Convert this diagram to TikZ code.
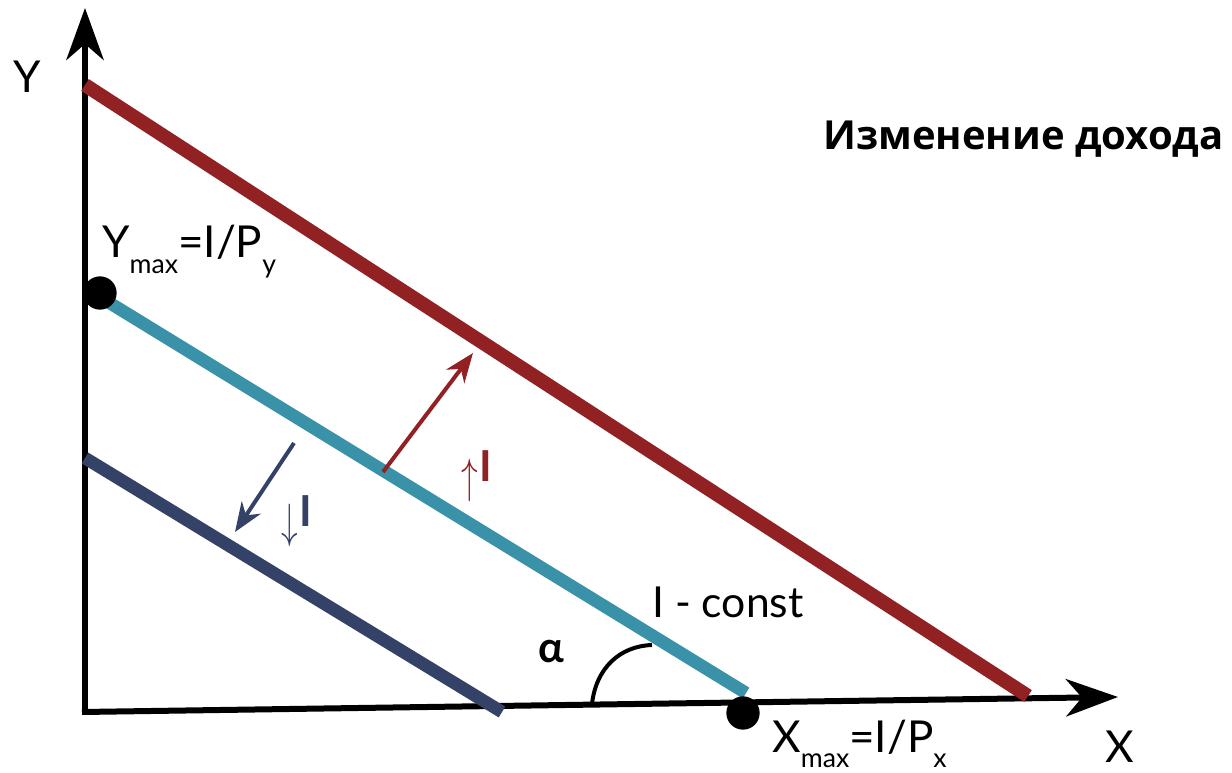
\documentclass[tikz,border=0pt]{standalone}
\usepackage{fontspec}
\setmainfont{Lato}
\newfontfamily\titlefont{Open Sans}
\usetikzlibrary{arrows.meta}
\definecolor{incred}{HTML}{922124}
\definecolor{baseteal}{HTML}{3A92A8}
\definecolor{decnavy}{HTML}{344268}
\newcommand{\lowsub}[1]{\raisebox{-0.36em}{\fontsize{20}{22}\selectfont #1}}
\newcommand{\tallarrow}[1]{\raisebox{-0.25em}{\scalebox{1}[1.45]{$#1$}}\kern1pt}

\begin{document}
\begin{tikzpicture}[x=0.75pt,y=-0.75pt,
  axis/.style={line width=4.5pt,-{Stealth[length=39pt,width=28pt,inset=12pt]}},
  budget/.style={line width=9.5pt},
  shiftarrow/.style={line width=3pt,-{Stealth[length=22pt,width=17pt,inset=7pt]}},
  lbl/.style={inner sep=0pt,font=\fontsize{33}{38}\selectfont},
  dot/.style={circle,fill=black,inner sep=0pt,minimum size=25pt}]
  \useasboundingbox (0,0) rectangle (1232,773);
  % axes
  \coordinate (origin) at (85,712);
  \coordinate (ytip) at (85,8);
  \coordinate (xtip) at (1118,697);
  \draw[axis] (85,715) -- (ytip);
  \draw[axis] (82,712) -- (xtip);
  \node[lbl] (ylabel) at (27,77) {Y};
  \node[lbl] (xlabel) at (1120,747) {X};
  % budget lines
  \coordinate (redtop) at (85,85);
  \coordinate (redend) at (1028,696);
  \coordinate (tealtop) at (100,297);
  \coordinate (tealend) at (746,693);
  \coordinate (navytop) at (85,458);
  \coordinate (navyend) at (502,712);
  \draw[budget,incred,line width=10.5pt] (redtop) -- (redend);
  \draw[budget,baseteal] (tealtop) -- (tealend);
  \draw[budget,decnavy] (navytop) -- (navyend);
  \node[dot] (ymaxdot) at (100,293) {};
  \node[dot] (xmaxdot) at (743,713) {};
  % shifts of income
  \coordinate (upstart) at (383,472);
  \coordinate (uptip) at (473,353);
  \coordinate (downstart) at (294,443);
  \coordinate (downtip) at (235,532);
  \draw[shiftarrow,incred] (upstart) -- (uptip);
  \draw[shiftarrow,decnavy] (downstart) -- (downtip);
  \node[inner sep=0pt,text=incred,font=\fontsize{32}{36}\selectfont,anchor=base west] (incup) at (461,482) {\tallarrow{\uparrow}\textbf{I}};
  \node[inner sep=0pt,text=decnavy,font=\fontsize{32}{36}\selectfont,anchor=base west] (incdown) at (281,527) {\tallarrow{\downarrow}\textbf{I}};
  % labels
  \node[lbl,anchor=base west] (ymax) at (102,258) {Y\lowsub{max}=I/P\lowsub{y}};
  \node[lbl,anchor=base west] (xmax) at (772,752) {X\lowsub{max}=I/P\lowsub{x}};
  \node[inner sep=0pt,anchor=base west,font=\fontsize{32}{36}\selectfont] (iconst) at (652,617) {I - const};
  \node[inner sep=0pt,font=\fontsize{32}{36}\selectfont\bfseries] (alpha) at (551,652) {α};
  \draw[line width=3pt] (592,704) .. controls (596,668) and (620,646) .. (652,645);
  \node[inner sep=0pt,anchor=base west,font=\titlefont\fontsize{30}{35}\selectfont\bfseries] (title) at (823,150) {Изменение дохода};
\end{tikzpicture}
\end{document}
